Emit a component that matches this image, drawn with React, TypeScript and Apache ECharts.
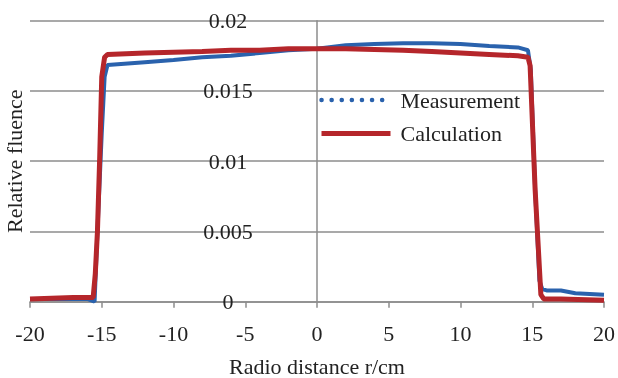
import React, { useEffect, useRef } from "react";
import * as echarts from "echarts";

const xTicks = [-20, -15, -10, -5, 0, 5, 10, 15, 20];
const yTicks = [0, 0.005, 0.01, 0.015, 0.02];

const measX = [-20, -18, -16, -15.5, -15.3, -15.0, -14.8, -14.6, -12, -10, -8, -6, -4, -2, 0, 2, 4, 6, 8, 10, 12, 14, 14.7, 14.9, 15.2, 15.5, 15.7, 16, 17, 18, 20];
const measY = [0.0002, 0.0002, 0.0002, 0.0, 0.005, 0.012, 0.016, 0.01685, 0.01705, 0.0172, 0.0174, 0.0175, 0.0177, 0.0179, 0.018, 0.01825, 0.01835, 0.0184, 0.0184, 0.01835, 0.0182, 0.0181, 0.0179, 0.0165, 0.008, 0.0015, 0.0009, 0.0008, 0.0008, 0.0006, 0.0005];

const calcX = [-20, -17, -15.6, -15.45, -15.3, -15.15, -15.0, -14.8, -14.6, -12, -10, -8, -6, -4, -2, 0, 2, 4, 6, 8, 10, 12, 14, 14.7, 14.85, 15.2, 15.6, 15.8, 17, 20];
const calcY = [0.0002, 0.0003, 0.0003, 0.002, 0.005, 0.01, 0.016, 0.0174, 0.0176, 0.0177, 0.01775, 0.0178, 0.0179, 0.0179, 0.018, 0.018, 0.018, 0.01795, 0.0179, 0.0178, 0.0177, 0.0176, 0.0175, 0.0174, 0.0168, 0.008, 0.0005, 0.0002, 0.0002, 0.0001];

const seriesNames = ["Measurement", "Calculation"];

const FONT = "Liberation Serif";
const FS = 22;
const GRAY = "#8c8c8c";
const BLUE = "#2a62ad";
const RED = "#b5262b";

export default function App() {
  const ref = useRef<HTMLDivElement>(null);
  useEffect(() => {
    if (!ref.current) return;
    const chart = echarts.init(ref.current, undefined, { renderer: "svg" });
    chart.setOption({
      animation: false,
      textStyle: { fontFamily: FONT },
      grid: { left: 30, right: 14, top: 20.7, bottom: 76.3, containLabel: false, outerBoundsMode: "none" },
      legend: {
        orient: "vertical",
        left: 314,
        top: 84,
        itemWidth: 69,
        itemHeight: 22,
        itemGap: 11.4,
        itemStyle: { opacity: 0 },
        textStyle: { fontFamily: FONT, fontSize: FS, color: "#222", padding: [0, 0, 0, 5] },
        data: [
          { name: seriesNames[0], itemStyle: { opacity: 0 }, lineStyle: { type: [0.1, 10], width: 4.5, cap: "round", color: BLUE } },
          { name: seriesNames[1], itemStyle: { opacity: 0 }, lineStyle: { width: 5, color: RED } },
        ],
      },
      xAxis: {
        type: "value",
        min: -20,
        max: 20,
        interval: 5,
        name: "Radio distance r/cm",
        nameLocation: "middle",
        nameGap: 54,
        nameTextStyle: { fontFamily: FONT, fontSize: FS, color: "#222" },
        axisLine: { lineStyle: { color: GRAY, width: 1.5 } },
        axisTick: { show: true, length: 6, lineStyle: { color: GRAY, width: 1.5 } },
        axisLabel: { fontFamily: FONT, fontSize: FS, color: "#222", margin: 21, formatter: (v: number) => String(v) },
        splitLine: { show: false },
      },
      yAxis: {
        type: "value",
        min: 0,
        max: 0.02,
        interval: 0.005,
        name: "Relative fluence",
        nameLocation: "middle",
        nameGap: 4.5,
        nameTextStyle: { fontFamily: FONT, fontSize: FS, color: "#222" },
        axisLine: { show: true, onZero: true, lineStyle: { color: GRAY, width: 1.5 } },
        axisTick: { show: false },
        axisLabel: {
          fontFamily: FONT,
          fontSize: FS,
          color: "#222",
          margin: -198,
          align: "center",
          formatter: (v: number) => String(Number(v.toFixed(4))),
        },
        splitLine: { show: true, lineStyle: { color: GRAY, width: 1.5 } },
      },
      series: [
        {
          name: seriesNames[0],
          type: "line",
          symbol: "none",
          data: measX.map((x, i) => [x, measY[i]]),
          lineStyle: { color: BLUE, width: 4 },
          itemStyle: { color: BLUE },
        },
        {
          name: seriesNames[1],
          type: "line",
          symbol: "none",
          data: calcX.map((x, i) => [x, calcY[i]]),
          lineStyle: { color: RED, width: 5 },
          itemStyle: { color: RED },
        },
      ],
    });
    return () => chart.dispose();
  }, []);
  return <div ref={ref} style={{ position: "fixed", left: 0, top: 0, width: 618, height: 378 }} />;
}
